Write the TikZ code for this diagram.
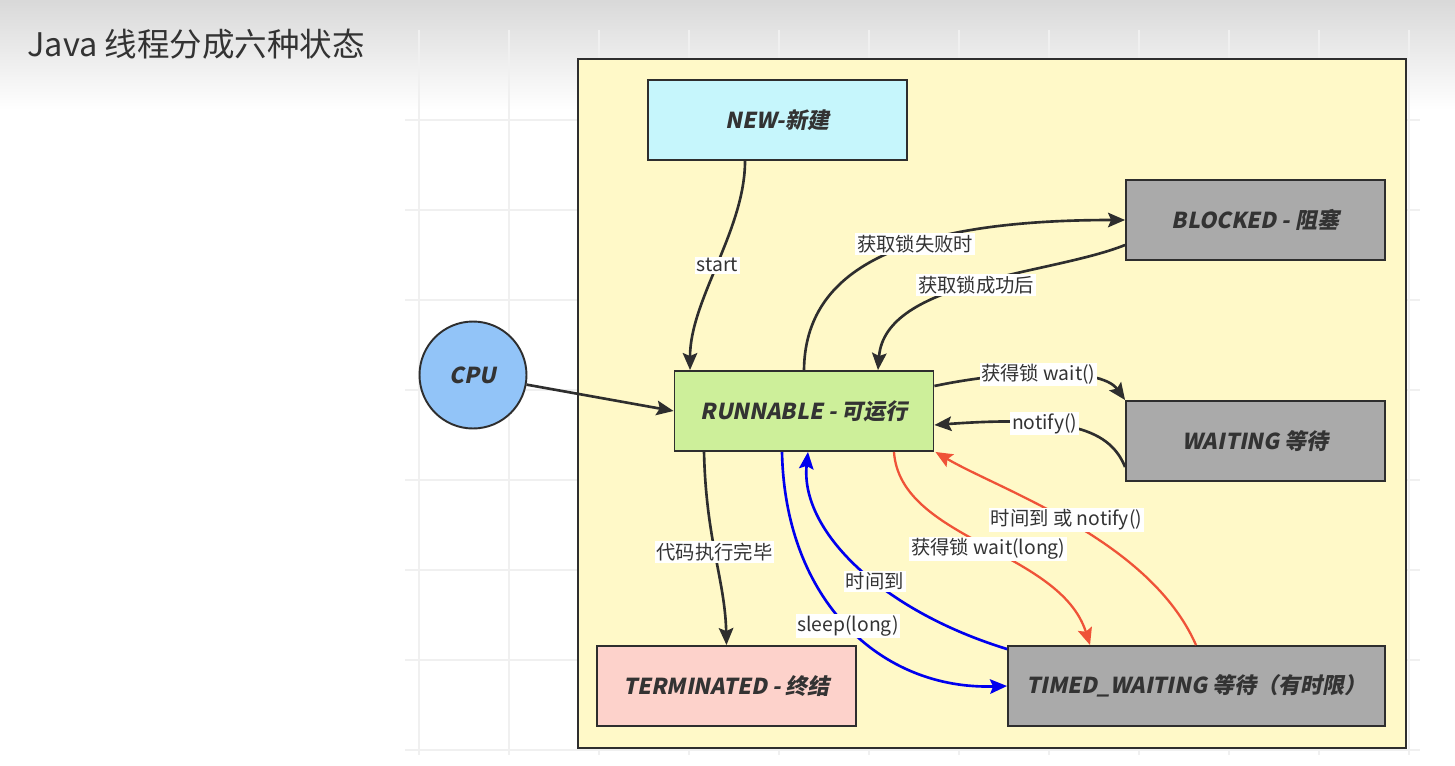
\documentclass[tikz,border=0pt]{standalone}
\usepackage{fontspec}
\usepackage{xcolor}
\setmainfont{Noto Sans CJK SC}
\newfontfamily\statefont{Noto Sans CJK SC}[FakeSlant=0.2]
\usepackage{tikz}
\usetikzlibrary{arrows.meta}

\definecolor{panelyellow}{HTML}{FFF9C8}
\definecolor{newcyan}{HTML}{C6F6FC}
\definecolor{rungreen}{HTML}{CDEF9A}
\definecolor{termpink}{HTML}{FDD2CB}
\definecolor{waitgray}{HTML}{AAAAAA}
\definecolor{cpublue}{HTML}{92C4F8}
\definecolor{linedark}{HTML}{2E2E2E}
\definecolor{textdark}{HTML}{333333}
\definecolor{arrblue}{HTML}{0000EE}
\definecolor{arrred}{HTML}{EF5338}

\begin{document}
\begin{tikzpicture}[
    x=0.02cm, y=-0.02cm,
    state/.style={draw=linedark, line width=1.1pt, minimum width=5.18cm, minimum height=1.6cm,
        font=\statefont\bfseries\fontsize{12.5}{14}\selectfont, text=textdark},
    lbl/.style={fill=white, inner sep=1pt, font=\fontsize{11}{13}\selectfont, text=textdark},
    arr/.style={-{Stealth[length=3.4mm, width=2.9mm, inset=0.6mm]}, line width=1.5pt, draw=linedark},
    bluearr/.style={arr, draw=arrblue},
    redarr/.style={arr, draw=arrred, line width=1.3pt}
]
    \useasboundingbox (0,0) rectangle (1455,765);

    % Background
    \fill[white] (0,0) rectangle (1455,765);
    \shade[top color=gray!30, bottom color=white] (0,0) rectangle (1455,110);
    \foreach \gx in {419,509,...,1409} \draw[gray!12, line width=0.6pt] (\gx,30) -- (\gx,755);
    \foreach \gy in {120,210,...,750} \draw[gray!12, line width=0.6pt] (405,\gy) -- (1420,\gy);
    \node[anchor=west, font=\fontsize{18.5}{20}\selectfont, text=textdark, inner sep=0pt] (title) at (27,44) {Java 线程分成六种状态};

    % Panel
    \draw[fill=panelyellow, draw=linedark, line width=1.3pt] (578,59) rectangle (1406,748);

    % States
    \node[state, fill=newcyan] (new) at (777.5,120) {NEW-新建};
    \node[state, fill=waitgray] (blocked) at (1255.5,220) {BLOCKED - 阻塞};
    \node[state, fill=rungreen] (runnable) at (804,411) {RUNNABLE - 可运行};
    \node[state, fill=waitgray] (waiting) at (1255.5,441) {WAITING 等待};
    \node[state, fill=termpink] (terminated) at (726.5,686) {TERMINATED - 终结};
    \node[state, fill=waitgray, minimum width=7.54cm] (timed) at (1196.5,686) {TIMED\_WAITING 等待（有时限）};
    \node[circle, draw=linedark, line width=1.1pt, fill=cpublue, minimum size=2.14cm,
        font=\statefont\bfseries\fontsize{12.5}{14}\selectfont, text=textdark] (cpu) at (473,375) {CPU};

    % Black transitions
    \draw[arr] ([xshift=-0.65cm]new.south) .. controls (745,230) and (690,300) .. node[lbl, pos=0.5] {start} ([xshift=-2.28cm]runnable.north);
    \draw[arr] (runnable.north) .. controls (805,270) and (900,220) .. node[lbl, pos=0.6] {获取锁失败时} (blocked.west);
    \draw[arr] ([yshift=-0.5cm]blocked.west) .. controls (1050,275) and (885,280) .. node[lbl, pos=0.5] {获取锁成功后} ([xshift=1.48cm]runnable.north);
    \draw[arr] ([yshift=0.5cm]runnable.east) .. controls (1000,372) and (1100,365) .. node[lbl, pos=0.47] {获得锁 wait()} (waiting.north west);
    \draw[arr] ([yshift=-0.52cm]waiting.west) .. controls (1110,430) and (1070,415) .. node[lbl, pos=0.65] {notify()} ([yshift=-0.28cm]runnable.east);
    \draw[arr] (cpu) -- (runnable.west);
    \draw[arr] ([xshift=-2cm]runnable.south) .. controls (706,540) and (725,580) .. node[lbl, pos=0.47] {代码执行完毕} (terminated.north);

    % Timed transitions
    \draw[bluearr] ([xshift=-0.44cm]runnable.south) .. controls (785,600) and (880,690) .. node[lbl, pos=0.5] {sleep(long)} (timed.west);
    \draw[bluearr] ([yshift=-0.08cm]timed.north west) .. controls (880,610) and (800,530) .. node[lbl, pos=0.42] {时间到} ([xshift=0.08cm]runnable.south);
    \draw[redarr] ([xshift=1.8cm]runnable.south) .. controls (900,540) and (1060,550) .. node[lbl, pos=0.52] {获得锁 wait(long)} ([xshift=-2.13cm]timed.north);
    \draw[redarr] ([xshift=-0.01cm]timed.north) .. controls (1150,540) and (1000,490) .. node[lbl, pos=0.52] {时间到 或 notify()} ([xshift=0.02cm]runnable.south east);
\end{tikzpicture}
\end{document}
